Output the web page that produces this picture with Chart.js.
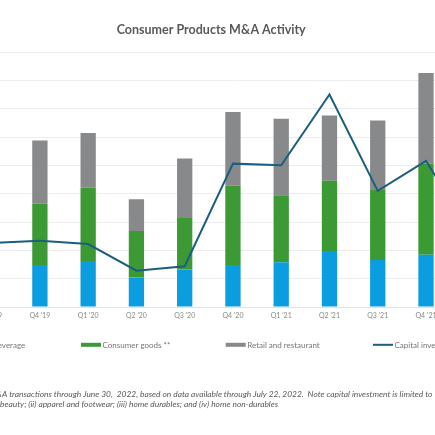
<!DOCTYPE html>
<html>
<head>
<meta charset="utf-8">
<script src="https://cdn.jsdelivr.net/npm/chart.js@4"></script>
<style>
  html, body { margin: 0; padding: 0; background: #fff; }
  #frame { position: relative; width: 435px; height: 435px; overflow: hidden; }
  #wrap { position: absolute; left: -77px; top: 0; width: 576.4px; height: 435px; }
</style>
</head>
<body>
<div id="frame"><div id="wrap"><canvas id="c"></canvas></div></div>
<script>
const categories = ["Q3 '19", "Q4 '19", "Q1 '20", "Q2 '20", "Q3 '20", "Q4 '20", "Q1 '21", "Q2 '21", "Q3 '21", "Q4 '21", "Q1 '22"];
const foodBeverage = [null, 74, 81, 52, 66, 74, 79, 99, 83, 92, null];
const consumerGoods = [null, 108, 130, 82, 91, 140, 118, 124, 125, 161, null];
const retailRestaurant = [null, 112, 96, 56, 105, 130, 135, 115, 121, 160, null];
const capitalInvestment = [113, 117, 111, 64, 72, 253, 250, 375, 205, 258, 120];
const yTicks = [0, 50, 100, 150, 200, 250, 300, 350, 400, 450];
const titleText = "Consumer Products M&A Activity";
const footnoteLines = [
  "M&A transactions through June 30,  2022, based on data available through July 22, 2022.  Note capital investment is limited to",
  "beauty; (ii) apparel and footwear; (iii) home durables; and (iv) home non-durables"
];

Chart.defaults.font.family = "Lato, 'Open Sans', sans-serif";

const legendPlugin = {
  id: 'slotLegend',
  afterDraw(chart) {
    const ctx = chart.ctx;
    const xs = [14, 158, 302.7, 450];
    const y = 344.8;
    ctx.save();
    ctx.font = "8px Lato";
    ctx.textBaseline = 'middle';
    chart.data.datasets.forEach((ds, i) => {
      const x = xs[i];
      if (ds.type === 'line') {
        ctx.strokeStyle = ds.borderColor;
        ctx.lineWidth = 2;
        ctx.beginPath();
        ctx.moveTo(x, y);
        ctx.lineTo(x + 20, y);
        ctx.stroke();
      } else {
        ctx.fillStyle = ds.backgroundColor;
        ctx.fillRect(x, y - 2, 20, 4);
      }
      ctx.fillStyle = '#767676';
      ctx.textAlign = 'left';
      ctx.fillText(ds.label, x + 21.5, y + 0.5);
    });
    ctx.font = "italic 8.4px Lato";
    ctx.fillStyle = '#595959';
    ctx.fillText(footnoteLines[0], 66, 394);
    ctx.fillText(footnoteLines[1], 77, 404.3);
    ctx.restore();
  }
};

new Chart(document.getElementById('c'), {
  data: {
    labels: categories,
    datasets: [
      { type: 'bar', label: 'Food and beverage', data: foodBeverage, backgroundColor: '#0a9ddf', stack: 'bars', order: 2 },
      { type: 'bar', label: 'Consumer goods **', data: consumerGoods, backgroundColor: '#3c9a35', stack: 'bars', order: 2 },
      { type: 'bar', label: 'Retail and restaurant', data: retailRestaurant, backgroundColor: '#87898b', stack: 'bars', order: 2 },
      { type: 'line', label: 'Capital investment', data: capitalInvestment, borderColor: '#1b5e7e', borderWidth: 2, pointRadius: 0, tension: 0, fill: false, stack: 'line', order: 1 }
    ]
  },
  options: {
    responsive: true,
    maintainAspectRatio: false,
    animation: false,
    layout: { padding: 0 },
    datasets: { bar: { categoryPercentage: 1, barPercentage: 0.317 } },
    plugins: {
      legend: { display: false },
      tooltip: { enabled: false },
      title: {
        display: true,
        text: titleText,
        color: '#595959',
        font: { size: 12.5, weight: 'bold', lineHeight: 1.2 },
        padding: { top: 22, bottom: 15 }
      }
    },
    scales: {
      x: {
        stacked: true,
        grid: { display: false, drawTicks: false },
        border: { display: true, color: '#e3e3e3' },
        ticks: { color: '#8a8a8a', font: { size: 7 }, padding: 5, maxRotation: 0, autoSkip: false },
        afterFit(axis) { axis.height = 128; }
      },
      y: {
        stacked: true,
        min: 0,
        max: 450,
        afterBuildTicks(axis) { axis.ticks = yTicks.map(v => ({ value: v })); },
        grid: { color: '#ececec', drawTicks: false },
        border: { display: false },
        ticks: { display: false },
        afterFit(axis) { axis.width = 44.5; }
      }
    }
  },
  plugins: [legendPlugin]
});
</script>
</body>
</html>
